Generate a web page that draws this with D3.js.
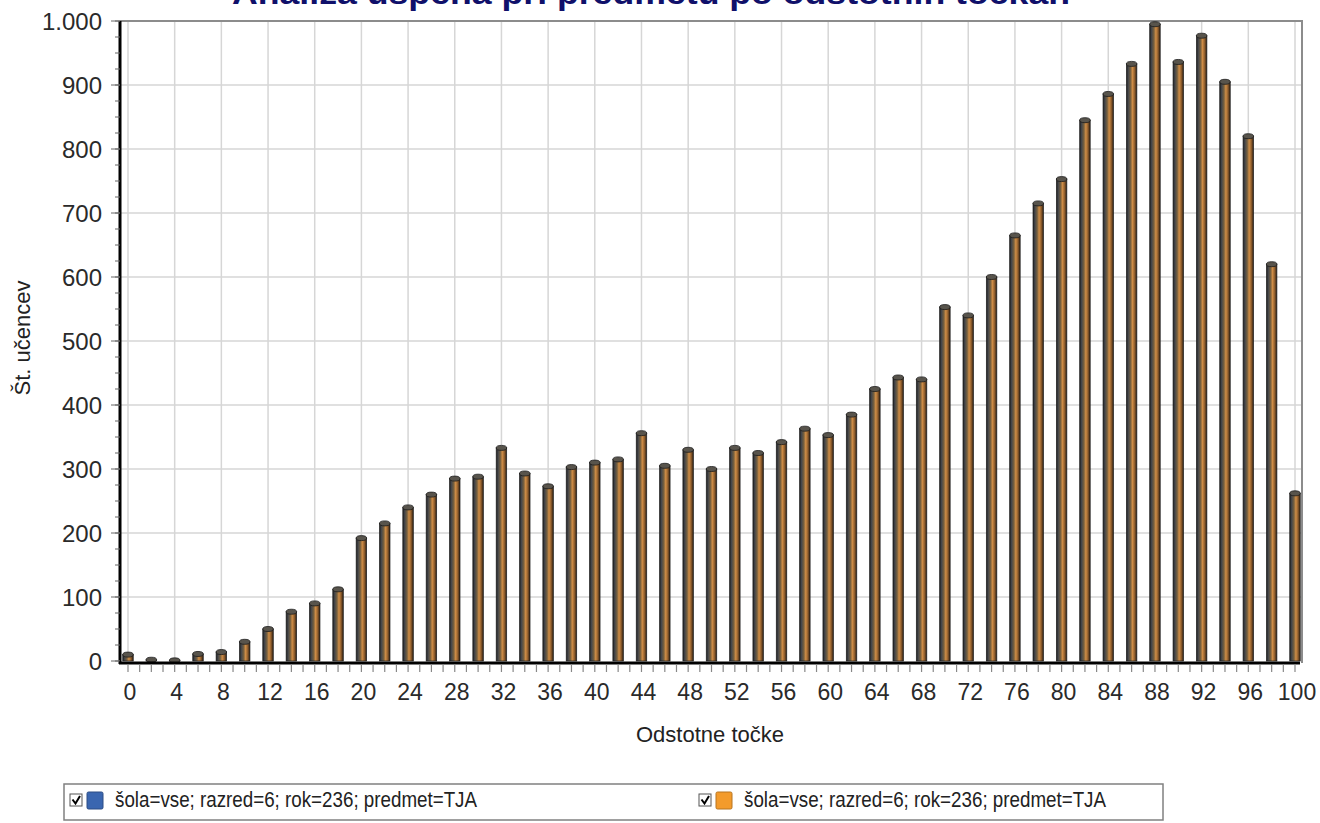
<!DOCTYPE html>
<html>
<head>
<meta charset="utf-8">
<script src="https://cdn.jsdelivr.net/npm/d3@7"></script>
<style>
  body { margin: 0; background: #fff; }
  text { font-family: "Liberation Sans", Arial, sans-serif; }
</style>
</head>
<body>
<div id="chart"></div>
<script>
// kategorije (odstotne točke) in število učencev
const tocke = d3.range(0, 101, 2);
const ucenci = [10, 2, 1, 11, 14, 30, 50, 77, 90, 112,
  192, 215, 240, 260, 285, 288, 333, 293, 273, 303,
  310, 315, 356, 305, 330, 300, 333, 325, 342, 363,
  353, 385, 425, 443, 440, 553, 540, 600, 665, 715,
  753, 845, 886, 933, 995, 936, 977, 905, 820, 620, 262];
const yTicks = d3.range(0, 1001, 100);
const xLabels = d3.range(0, 101, 4);
const legenda = [
  { label: "šola=vse; razred=6; rok=236; predmet=TJA", color: "#3a66b0" },
  { label: "šola=vse; razred=6; rok=236; predmet=TJA", color: "#f39b2c" }
];

const width = 1320, height = 823;
const plotL = 120, plotR = 1302, plotT = 21, plotB = 661;

const svg = d3.select("#chart").append("svg")
  .attr("width", width)
  .attr("height", height);

// gradient za "valjaste" stolpce
const defs = svg.append("defs");
const grad = defs.append("linearGradient").attr("id", "cyl")
  .attr("x1", "0%").attr("x2", "100%").attr("y1", "0%").attr("y2", "0%");
[["0%", "#1a1a1a"], ["18%", "#45474b"], ["40%", "#76603f"], ["58%", "#cf8d46"],
 ["78%", "#93602e"], ["100%", "#261a10"]].forEach(([o, c]) =>
  grad.append("stop").attr("offset", o).attr("stop-color", c));

// naslov (odrezan na vrhu)
svg.append("text")
  .attr("x", 651).attr("y", 4)
  .attr("text-anchor", "middle")
  .attr("textLength", 838).attr("lengthAdjust", "spacingAndGlyphs")
  .style("font-size", "32px").style("font-weight", "bold")
  .style("fill", "#10106a")
  .text("Analiza uspeha pri predmetu po odstotnih točkah");

// skale
const x = d3.scalePoint().domain(tocke).range([128, 1295]);
const y = d3.scaleLinear().domain([0, 1000]).range([plotB, plotT]);

// mreža
svg.append("g").selectAll("line").data(yTicks.slice(1)).join("line")
  .attr("x1", plotL).attr("x2", plotR)
  .attr("y1", d => y(d)).attr("y2", d => y(d))
  .attr("stroke", "#d6d6d6").attr("stroke-width", 1.5);

svg.append("g").selectAll("line").data(xLabels).join("line")
  .attr("x1", d => x(d)).attr("x2", d => x(d))
  .attr("y1", plotT).attr("y2", plotB)
  .attr("stroke", "#d6d6d6").attr("stroke-width", 1.5);

// okvir zgoraj in desno
svg.append("path")
  .attr("d", `M${plotL},${plotT}H${plotR}V${plotB + 2}`)
  .attr("fill", "none").attr("stroke", "#8c8c8c").attr("stroke-width", 2);

// stolpci
const bw = 10.5;
const bars = svg.append("g").selectAll("g").data(tocke).join("g");
bars.append("rect")
  .attr("x", d => x(d) - bw / 2)
  .attr("y", (d, i) => y(ucenci[i]))
  .attr("width", bw)
  .attr("height", (d, i) => plotB - y(ucenci[i]))
  .attr("fill", "url(#cyl)")
  .attr("stroke", "#222").attr("stroke-width", 0.7);
bars.append("ellipse")
  .attr("cx", d => x(d))
  .attr("cy", (d, i) => y(ucenci[i]))
  .attr("rx", bw / 2).attr("ry", 2.5)
  .attr("fill", "#58544c").attr("stroke", "#1a1a1a").attr("stroke-width", 0.8);

// os y
const yAxis = svg.append("g").attr("transform", `translate(${plotL},0)`);
yAxis.append("line").attr("x1", 0).attr("x2", 0).attr("y1", plotT).attr("y2", plotB + 3)
  .attr("stroke", "#000").attr("stroke-width", 3);
yAxis.selectAll(".minor").data(d3.range(0, 1001, 25)).join("line")
  .attr("x1", -5).attr("x2", 0)
  .attr("y1", d => y(d)).attr("y2", d => y(d))
  .attr("stroke", "#666").attr("stroke-width", 1);
yAxis.selectAll(".major").data(yTicks).join("line")
  .attr("x1", -9).attr("x2", 0)
  .attr("y1", d => y(d)).attr("y2", d => y(d))
  .attr("stroke", "#666").attr("stroke-width", 1);
const fmt = d3.formatLocale({ decimal: ",", thousands: ".", grouping: [3], currency: ["", "€"] }).format(",d");
yAxis.selectAll("text").data(yTicks).join("text")
  .attr("x", -18).attr("y", d => y(d)).attr("dy", "0.36em")
  .attr("text-anchor", "end")
  .style("font-size", "24px").style("fill", "#2a2a2a")
  .text(d => fmt(d));

// os x
const xAxis = svg.append("g");
xAxis.append("line").attr("x1", plotL - 1).attr("x2", 1300).attr("y1", plotB + 2).attr("y2", plotB + 2)
  .attr("stroke", "#000").attr("stroke-width", 3);
const step = x.step() / 2;
xAxis.selectAll(".tk").data(d3.range(0, 101, 1)).join("line")
  .attr("x1", d => x(0) + d * step).attr("x2", d => x(0) + d * step)
  .attr("y1", plotB + 3).attr("y2", plotB + 11)
  .attr("stroke", "#888").attr("stroke-width", 1.2);
xAxis.selectAll("text").data(xLabels).join("text")
  .attr("x", d => x(d) + 2).attr("y", 700)
  .attr("text-anchor", "middle")
  .style("font-size", "23px").style("fill", "#2a2a2a")
  .text(d => d);

// naslova osi
svg.append("text")
  .attr("x", 710).attr("y", 742)
  .attr("text-anchor", "middle")
  .style("font-size", "22px").style("fill", "#222")
  .text("Odstotne točke");
svg.append("text")
  .attr("transform", "translate(30,338) rotate(-90)")
  .attr("text-anchor", "middle")
  .style("font-size", "22px").style("fill", "#222")
  .text("Št. učencev");

// legenda
const lg = svg.append("g");
lg.append("rect")
  .attr("x", 64).attr("y", 784).attr("width", 1099).attr("height", 36)
  .attr("fill", "#fff").attr("stroke", "#808080").attr("stroke-width", 1.5);
const lx = [68, 697];
const items = lg.selectAll("g").data(legenda).join("g")
  .attr("transform", (d, i) => `translate(${lx[i]},0)`);
items.append("rect")
  .attr("x", 2).attr("y", 794).attr("width", 12).attr("height", 12)
  .attr("fill", "#fff").attr("stroke", "#555").attr("stroke-width", 1);
items.append("path")
  .attr("d", "M4.5,799.5 L7.5,803.5 L12,796")
  .attr("fill", "none").attr("stroke", "#000").attr("stroke-width", 2);
items.append("rect")
  .attr("x", 19).attr("y", 792).attr("width", 16).attr("height", 17)
  .attr("rx", 1.5)
  .attr("fill", d => d.color).attr("stroke", d => d3.color(d.color).darker(0.8)).attr("stroke-width", 1);
items.append("text")
  .attr("x", 47).attr("y", 807)
  .attr("textLength", 362).attr("lengthAdjust", "spacingAndGlyphs")
  .style("font-size", "22px").style("fill", "#222")
  .text(d => d.label);
</script>
</body>
</html>
